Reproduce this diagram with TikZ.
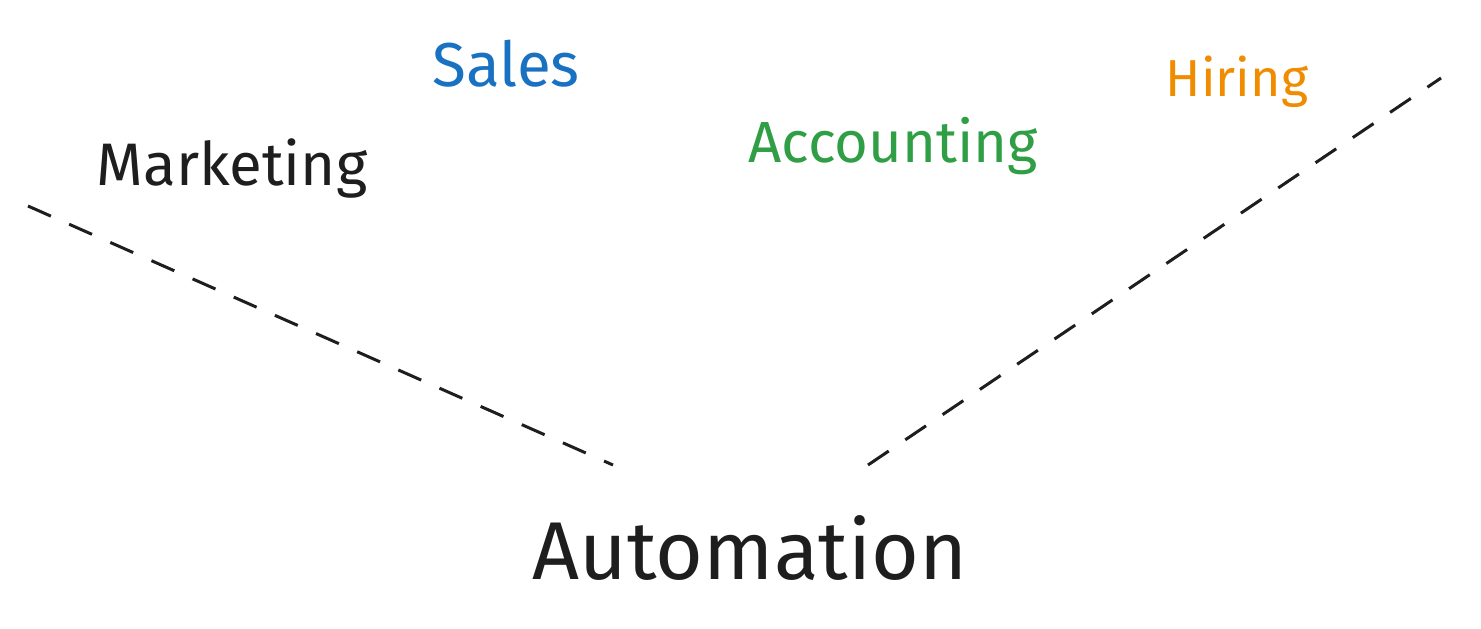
\documentclass[tikz,border=0pt]{standalone}
\usepackage{fontspec}
\setmainfont{Fira Sans}
\definecolor{exblack}{HTML}{1E1E1E}
\definecolor{exblue}{HTML}{1971C2}
\definecolor{exgreen}{HTML}{2F9E44}
\definecolor{exorange}{HTML}{F08C00}
\begin{document}
\begin{tikzpicture}[x=0.5pt,y=-0.5pt,
  lbl/.style={inner sep=0pt, font=\fontsize{29}{33}\selectfont},
  dashline/.style={draw=exblack, line width=1.5pt, dash pattern=on 12.5pt off 10pt, line cap=butt}]
\useasboundingbox (0,0) rectangle (1481,628);
\node[lbl, text=exblue, font=\fontsize{31}{35}\selectfont] (sales) at (506,64) {Sales};
\node[lbl, text=exblack, font=\fontsize{30}{34}\selectfont] (marketing) at (232,168) {Marketing};
\node[lbl, text=exgreen] (accounting) at (893,146) {Accounting};
\node[lbl, text=exorange, font=\fontsize{26}{30}\selectfont] (hiring) at (1237,82) {Hiring};
\node[lbl, text=exblack, font=\fontsize{41}{45}\selectfont] (automation) at (750,548) {Automation};
\coordinate (l1) at (28,206);
\coordinate (l2) at (613,465);
\coordinate (r1) at (868,465);
\coordinate (r2) at (1441,78);
\draw[dashline] (l1) -- (l2);
\draw[dashline] (r1) -- (r2);
\end{tikzpicture}
\end{document}
